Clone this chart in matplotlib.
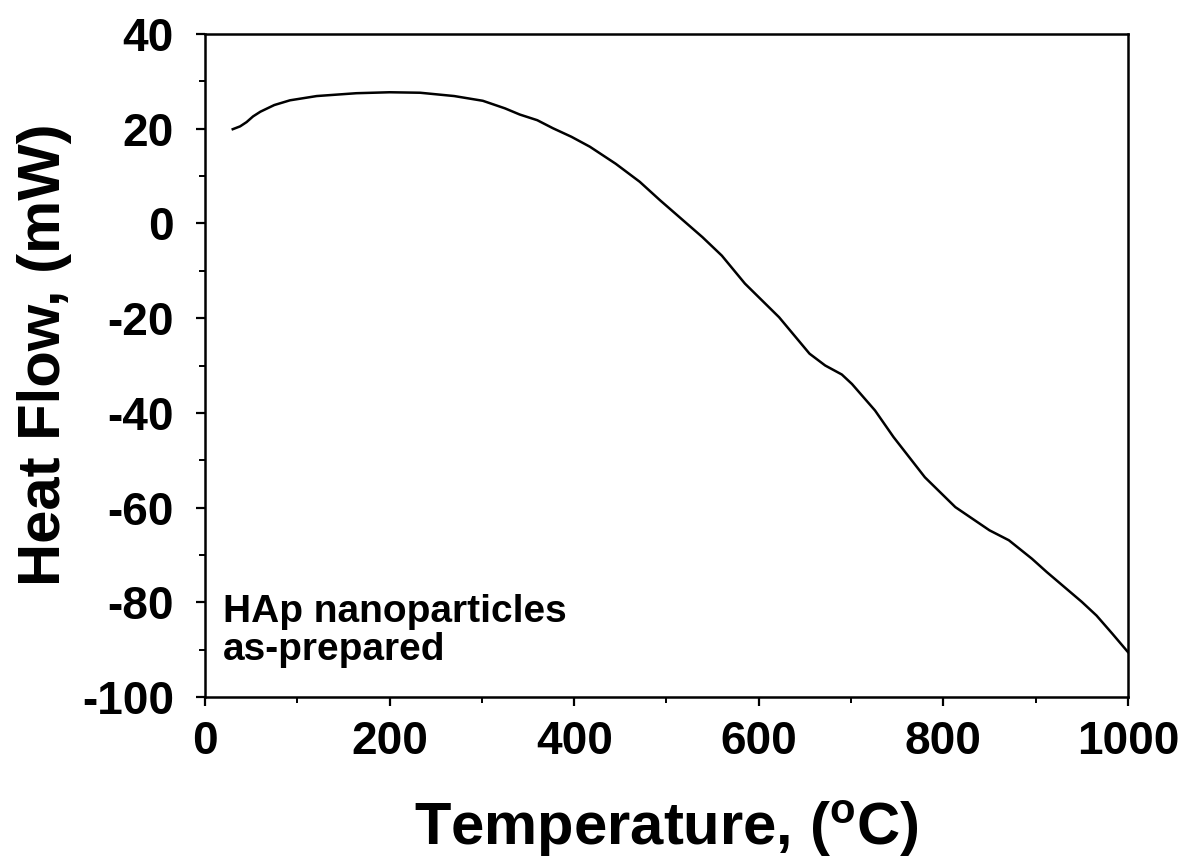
import matplotlib
matplotlib.use("Agg")
import matplotlib.pyplot as plt
from matplotlib.ticker import MultipleLocator

plt.rcParams['font.family'] = ['Liberation Sans', 'DejaVu Sans']
plt.rcParams['font.weight'] = 'bold'
plt.rcParams['mathtext.fontset'] = 'custom'
plt.rcParams['mathtext.rm'] = 'Liberation Sans:bold'
plt.rcParams['mathtext.bf'] = 'Liberation Sans:bold'
plt.rcParams['axes.unicode_minus'] = False

# DSC trace
temperature = [30, 38, 45, 52, 60, 75, 92, 121, 164, 200, 233, 270, 301, 325, 341,
               360, 377, 397, 417, 445, 471, 493, 516, 539, 560, 585, 622, 655,
               672, 690, 701, 726, 746, 780, 813, 850, 871, 896, 912, 950, 966,
               983, 1000]
heat_flow = [19.9, 20.5, 21.4, 22.6, 23.6, 25.0, 26.0, 26.9, 27.5, 27.7, 27.6, 26.9,
             25.9, 24.3, 23.0, 21.8, 20.1, 18.3, 16.2, 12.6, 8.8, 4.9, 1.0, -2.9,
             -6.8, -12.7, -19.8, -27.5, -30.0, -31.9, -33.9, -39.5, -45.1, -53.6,
             -59.9, -64.8, -66.9, -70.8, -73.6, -79.9, -82.8, -86.6, -90.5]

fig = plt.figure(figsize=(11.86, 8.59), dpi=100)
ax = fig.add_axes([0.1729, 0.1886, 0.7781, 0.7718])
ax.plot(temperature, heat_flow, color='black', lw=1.8)

ax.set_xlim(0, 1000)
ax.set_ylim(-100, 40)
ax.xaxis.set_major_locator(MultipleLocator(200))
ax.xaxis.set_minor_locator(MultipleLocator(100))
ax.yaxis.set_major_locator(MultipleLocator(20))
ax.yaxis.set_minor_locator(MultipleLocator(10))
ax.tick_params(which='major', direction='out', length=6.5, width=1.6, labelsize=33)
ax.tick_params(which='minor', direction='out', length=4, width=1.4)
ax.tick_params(axis='x', which='major', pad=10)
ax.tick_params(axis='y', which='major', pad=16)
for lab in ax.get_xticklabels() + ax.get_yticklabels():
    lab.set_fontweight('bold')
for sp in ax.spines.values():
    sp.set_linewidth(1.8)

ax.set_xlabel(r'Temperature, ($\mathregular{^o}$C)', fontsize=43, fontweight='bold', labelpad=25)
ax.set_ylabel('Heat Flow, (mW)', fontsize=43, fontweight='bold')
ax.yaxis.set_label_coords(-0.144, 0.516)

ax.text(0.0195, 0.155, 'HAp nanoparticles\nas-prepared', transform=ax.transAxes,
        fontsize=28, fontweight='bold', va='top', ha='left', linespacing=1.05)

fig.savefig('out.png', dpi=100)
